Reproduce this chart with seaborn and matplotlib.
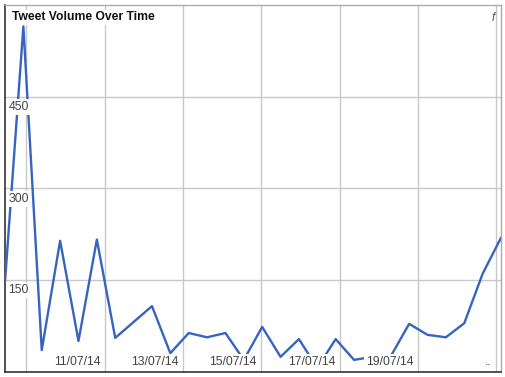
import matplotlib
matplotlib.use("Agg")
import matplotlib.pyplot as plt
from matplotlib.transforms import offset_copy
import seaborn as sns
import pandas as pd
import numpy as np

# ---- data ----
tweet_counts = [147, 565, 35, 214, 50, 216, 55, 81, 107, 30, 63, 56, 63, 19,
                73, 24, 53, 6, 53, 19, 24, 25, 78, 60, 56, 79, 160, 219]
sample_index = list(range(len(tweet_counts)))
y_ticks = [150, 300, 450]
y_tick_labels = ["150", "300", "450"]
x_grid = [1.17, 5.43, 9.70, 13.96, 18.22, 22.48, 26.75]
x_tick_labels = ["", "11/07/14", "13/07/14", "15/07/14", "17/07/14", "19/07/14", ".."]
title = "Tweet Volume Over Time"

df = pd.DataFrame({"t": sample_index, "count": tweet_counts})

sns.set_style("white")
plt.rcParams["font.family"] = ["Liberation Sans", "DejaVu Sans"]

W, H, DPI = 506, 377, 100
fig = plt.figure(figsize=(W / DPI, H / DPI), dpi=DPI)
ax = fig.add_axes([5 / W, (H - 371.5) / H, 496 / W, 366.5 / H])

sns.lineplot(data=df, x="t", y="count", ax=ax, color="#3764BE",
             linewidth=1.7, zorder=3)

ax.set_xlim(0, len(tweet_counts) - 1)
ax.set_ylim(0, 600)
ax.set_xticks(x_grid)
ax.set_yticks(y_ticks)
ax.tick_params(length=0, labelbottom=False, labelleft=False)
ax.grid(True, color="#c8c8c8", linewidth=1.0, zorder=0)
ax.set_axisbelow(True)
ax.set_xlabel("")
ax.set_ylabel("")

for side in ["left", "bottom"]:
    ax.spines[side].set_color("#333333")
    ax.spines[side].set_linewidth(1.2)
for side in ["top", "right"]:
    ax.spines[side].set_color("#aaaaaa")
    ax.spines[side].set_linewidth(1.0)

fs = 8.8
lab_color = "#444444"
box = dict(boxstyle="square,pad=0.15", facecolor="white", edgecolor="none")

# y labels: inside plot, just below the gridlines
ytr = offset_copy(ax.get_yaxis_transform(), fig=fig, x=3.5, y=-10.5, units="dots")
for v, s in zip(y_ticks, y_tick_labels):
    ax.text(0, v, s, transform=ytr, ha="left", va="center", fontsize=fs,
            color=lab_color, bbox=box, zorder=5)

# x labels: inside plot at the bottom, right-aligned to the gridlines
xtr = offset_copy(ax.get_xaxis_transform(), fig=fig, x=-4.5, y=9.8, units="dots")
for p, s in zip(x_grid, x_tick_labels):
    if s:
        ax.text(p, 0, s, transform=xtr, ha="right", va="center", fontsize=fs,
                color=lab_color, bbox=box, zorder=5)

# title and corner mark
ax.text(12 / W, 1 - 17.5 / H, title, transform=fig.transFigure, ha="left",
        va="center", fontsize=8.7, fontweight="bold", color="#111111",
        bbox=box, zorder=6)
ax.text(493 / W, 1 - 18 / H, "f", transform=fig.transFigure, ha="center",
        va="center", fontsize=8.5, fontstyle="italic", color="#555555", zorder=6)

fig.savefig("out.png", dpi=DPI)
